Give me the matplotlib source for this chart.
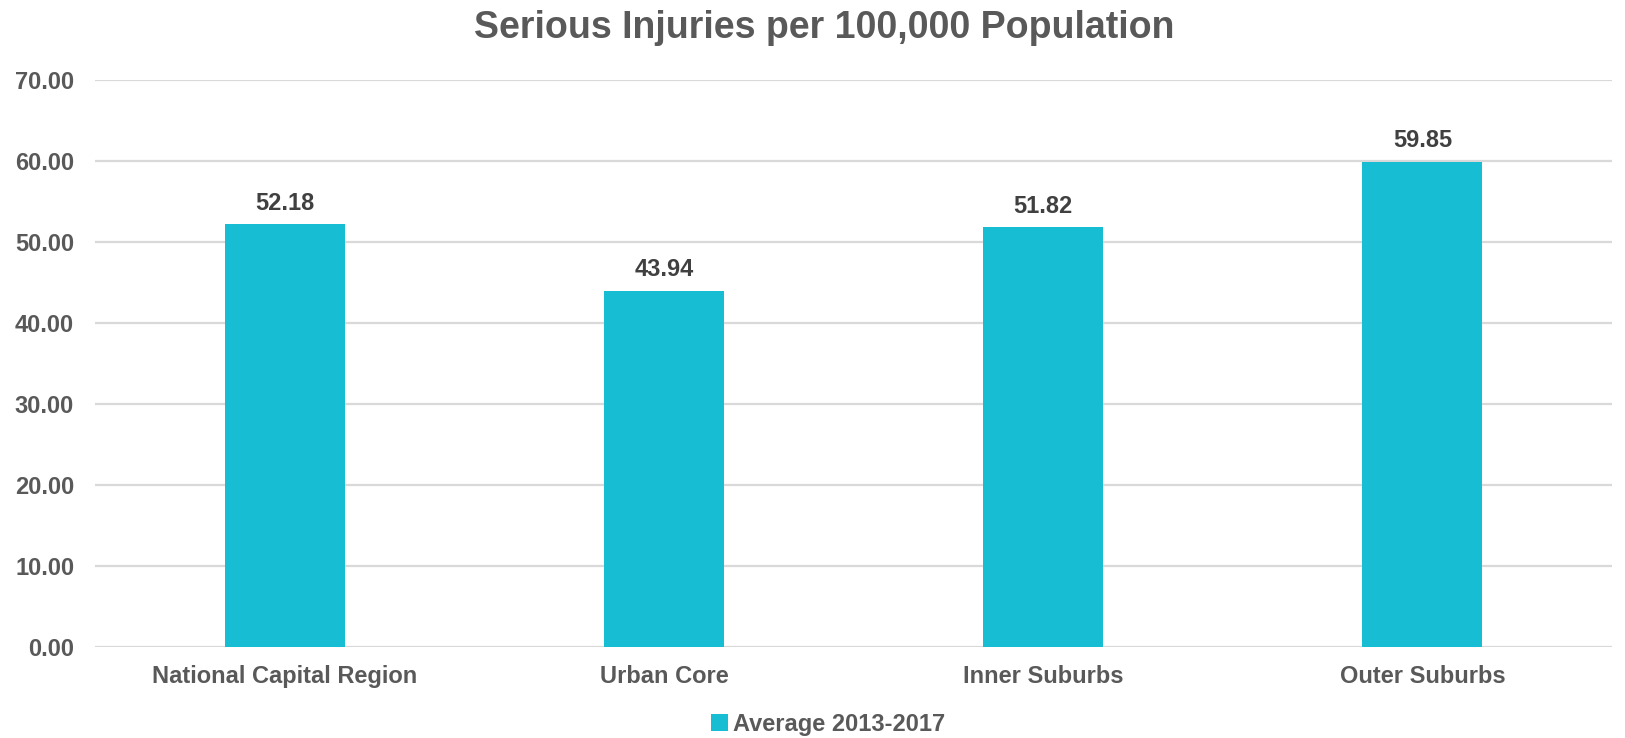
import matplotlib
matplotlib.use("Agg")
import matplotlib.pyplot as plt
from matplotlib.patches import Patch

categories = ["National Capital Region", "Urban Core", "Inner Suburbs", "Outer Suburbs"]
values = [52.18, 43.94, 51.82, 59.85]
series_name = "Average 2013-2017"
title = "Serious Injuries per 100,000 Population"
y_ticks = [0, 10, 20, 30, 40, 50, 60, 70]

bar_color = "#17BDD3"
text_color = "#595959"
label_color = "#404040"
grid_color = "#D9D9D9"

plt.rcParams["font.family"] = ["Liberation Sans", "DejaVu Sans"]
plt.rcParams["font.weight"] = "bold"

W, H = 1625, 738
fig = plt.figure(figsize=(W / 100, H / 100), dpi=100)
ax = fig.add_axes([95 / W, 1 - 647 / H, (1612 - 95) / W, (647 - 80) / H])

x = list(range(len(categories)))
ax.bar(x, values, width=0.317, color=bar_color, zorder=3)

ax.set_xlim(-0.5, len(categories) - 0.5)
ax.set_ylim(0, 70)
ax.set_yticks(y_ticks)
ax.set_yticklabels([f"{v:.2f}" for v in y_ticks])
ax.set_xticks(x)
ax.set_xticklabels(categories)

ax.tick_params(axis="y", length=0, pad=15, labelsize=17, labelcolor=text_color)
ax.tick_params(axis="x", length=0, pad=13, labelsize=17, labelcolor=text_color)
for lbl in ax.get_xticklabels() + ax.get_yticklabels():
    lbl.set_fontweight("bold")

ax.grid(axis="y", color=grid_color, linewidth=1.6, zorder=0)
for s in ax.spines.values():
    s.set_visible(False)

for xi, v in zip(x, values):
    ax.annotate(f"{v:.2f}", (xi, v), xytext=(0, 7), textcoords="offset points",
                ha="center", va="bottom", fontsize=17, fontweight="bold",
                color=label_color)

fig.text(824 / W, 1 - 28 / H, title, ha="center", va="center",
         fontsize=27, fontweight="bold", color=text_color)

handle = Patch(facecolor=bar_color, edgecolor="none")
fig.legend([handle], [series_name], loc="center", bbox_to_anchor=(828 / W, 1 - 724 / H),
           frameon=False, fontsize=17, handlelength=0.7, handleheight=0.7,
           handletextpad=0.2, labelcolor=text_color,
           prop={"weight": "bold", "size": 17})

fig.savefig("out.png", dpi=100)
